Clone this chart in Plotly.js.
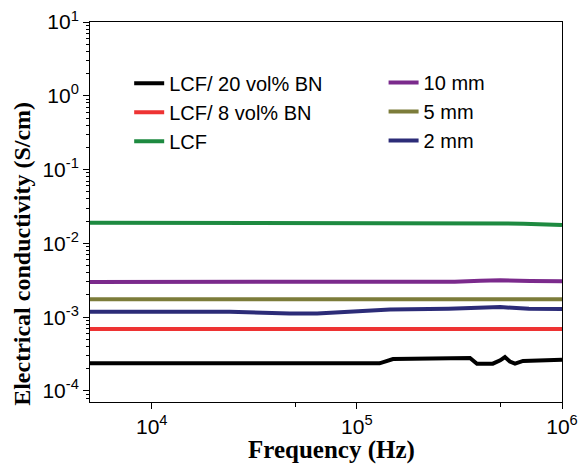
<!DOCTYPE html>
<html>
<head>
<meta charset="utf-8">
<script src="https://cdn.plot.ly/plotly-3.0.1.min.js"></script>
<style>html,body{margin:0;padding:0;background:#fff;}#chart{width:579px;height:465px;}</style>
</head>
<body>
<div id="chart"></div>
<script>
// Frequency (Hz) and conductivity (S/cm) per series
const freqBN20 = [5000, 1.0e5, 1.29e5, 1.5e5, 2.5e5, 3.56e5, 3.85e5, 4.6e5, 5.0e5, 5.27e5, 5.57e5, 5.9e5, 6.46e5, 8.0e5, 1.0e6];
const sigBN20  = [2.37e-4, 2.37e-4, 2.37e-4, 2.71e-4, 2.73e-4, 2.79e-4, 2.34e-4, 2.34e-4, 2.6e-4, 2.88e-4, 2.5e-4, 2.34e-4, 2.55e-4, 2.62e-4, 2.64e-4];

const freqBN8 = [5000, 1.0e5, 1.0e6];
const sigBN8  = [6.9e-4, 6.9e-4, 6.9e-4];

const freqLCF = [5000, 1.0e5, 2.3e5, 5.0e5, 6.5e5, 1.0e6];
const sigLCF  = [0.0190, 0.0190, 0.0188, 0.0187, 0.0185, 0.0178];

const freq10 = [5000, 1.0e5, 3.0e5, 4.0e5, 5.0e5, 7.0e5, 1.0e6];
const sig10  = [0.00300, 0.00300, 0.00302, 0.00312, 0.00316, 0.00310, 0.00306];

const freq5 = [5000, 2.4e4, 2.6e4, 1.6e5, 1.7e5, 1.0e6];
const sig5  = [0.00175, 0.00175, 0.00178, 0.00178, 0.00175, 0.00175];

const freq2 = [5000, 2.4e4, 4.7e4, 6.4e4, 1.45e5, 2.8e5, 5.0e5, 6.9e5, 1.0e6];
const sig2  = [0.00118, 0.00118, 0.00112, 0.00112, 0.00127, 0.00130, 0.00137, 0.00130, 0.00129];

const names = ["LCF/ 20 vol% BN", "LCF/ 8 vol% BN", "LCF", "10 mm", "5 mm", "2 mm"];
const colors = ["#000000", "#ee3333", "#1e8a40", "#7b2a8c", "#7c7c3a", "#2c2c78"];
const xs = [freqBN20, freqBN8, freqLCF, freq10, freq5, freq2];
const ys = [sigBN20, sigBN8, sigLCF, sig10, sig5, sig2];
const legends = ["legend", "legend", "legend", "legend2", "legend2", "legend2"];

// Tick labels
const xTickVals = [1e4, 1e5, 1e6];
const xTickText = ["10<sup>4</sup>", "10<sup>5</sup>", "10<sup>6</sup>"];
const yTickVals = [1e-4, 1e-3, 1e-2, 1e-1, 1, 10];
const yTickText = ["10<sup>-4</sup>", "10<sup>-3</sup>", "10<sup>-2</sup>", "10<sup>-1</sup>", "10<sup>0</sup>", "10<sup>1</sup>"];
const xMinorVals = [5e4, 5e5];

const traces = names.map((n, i) => ({
  x: xs[i], y: ys[i], name: n, type: "scatter", mode: "lines",
  line: {color: colors[i], width: 4},
  legend: legends[i]
}));

const sans = "Arial, 'Liberation Sans', sans-serif";
const serif = "'Liberation Serif', 'Times New Roman', serif";
const legFont = {family: sans, size: 20, color: "#000"};
const layout = {
  width: 579, height: 465,
  margin: {l: 90, r: 17, t: 22, b: 63},
  paper_bgcolor: "#fff", plot_bgcolor: "#fff",
  showlegend: true,
  legend: {x: 0.083, y: 0.89, xanchor: "left", yanchor: "top", bgcolor: "rgba(0,0,0,0)", font: legFont, tracegroupgap: 0},
  legend2: {x: 0.622, y: 0.892, xanchor: "left", yanchor: "top", bgcolor: "rgba(0,0,0,0)", font: legFont, tracegroupgap: 0},
  xaxis: {
    type: "log", range: [Math.log10(5000), 6],
    tickmode: "array", tickvals: xTickVals, ticktext: xTickText,
    showline: true, linecolor: "#000", linewidth: 1, mirror: true,
    ticks: "outside", ticklen: 6, tickcolor: "#000",
    minor: {tickmode: "array", tickvals: xMinorVals, ticklen: 4, tickcolor: "#000"},
    showgrid: false, zeroline: false,
    tickfont: {family: sans, size: 21, color: "#000"}
  },
  yaxis: {
    type: "log", range: [-4.15, 1],
    tickmode: "array", tickvals: yTickVals, ticktext: yTickText,
    showline: true, linecolor: "#000", linewidth: 1, mirror: true,
    ticks: "outside", ticklen: 6, tickcolor: "#000",
    minor: {dtick: "D1", ticklen: 3, tickcolor: "#000"},
    showgrid: false, zeroline: false,
    tickfont: {family: sans, size: 21, color: "#000"}
  },
  annotations: [
    {text: "<b>Frequency (Hz)</b>", xref: "paper", yref: "paper", x: 0.511, y: -0.126,
     xanchor: "center", yanchor: "middle", showarrow: false,
     font: {family: serif, size: 25, color: "#000"}},
    {text: "<b>Electrical conductivity (S/cm)</b>", xref: "paper", yref: "paper", x: -0.144, y: 0.39,
     xanchor: "center", yanchor: "middle", showarrow: false, textangle: -90,
     font: {family: serif, size: 24, color: "#000"}}
  ]
};

Plotly.newPlot("chart", traces, layout, {displayModeBar: false, staticPlot: true});
</script>
</body>
</html>
